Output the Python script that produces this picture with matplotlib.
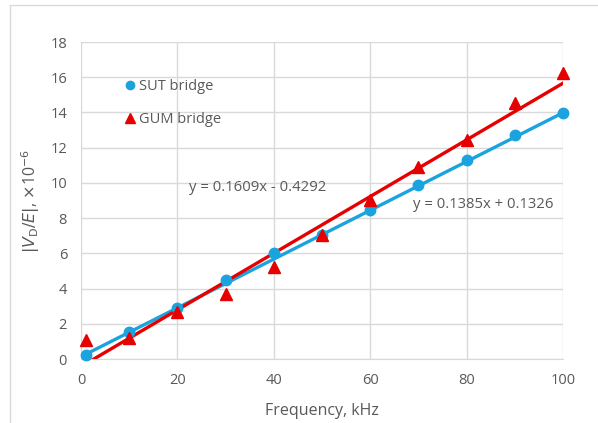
import matplotlib
matplotlib.use("Agg")
import matplotlib.pyplot as plt
from matplotlib.patches import Rectangle
from matplotlib.lines import Line2D
import numpy as np

plt.rcParams['font.family'] = ['Open Sans', 'DejaVu Sans']

freq = [1, 10, 20, 30, 40, 50, 60, 70, 80, 90, 100]
sut = [0.23, 1.52, 2.88, 4.47, 6.0, 7.02, 8.46, 9.87, 11.28, 12.72, 13.98]
gum = [1.08, 1.19, 2.67, 3.70, 5.23, 7.05, 9.03, 10.90, 12.44, 14.55, 16.25]
sut_fit = (0.1385, 0.1326)
gum_fit = (0.1609, -0.4292)
sut_label = "y = 0.1385x + 0.1326"
gum_label = "y = 0.1609x - 0.4292"
xticks = [0, 20, 40, 60, 80, 100]
yticks = [0, 2, 4, 6, 8, 10, 12, 14, 16, 18]

blue = '#1aa3df'
red = '#e60000'
tick_col = '#595959'
grid_col = '#d9d9d9'

fig = plt.figure(figsize=(5.98, 4.23), dpi=100)
fig.patches.append(Rectangle((10/598, -0.1), 2, 1.1 - 5/423, transform=fig.transFigure,
                             facecolor='none', edgecolor='#d9d9d9', lw=1))
ax = fig.add_axes([81/598, 1 - 359/423, (563-81)/598, (359-42)/423])

ax.set_xlim(0, 100)
ax.set_ylim(0, 18)
ax.set_xticks(xticks)
ax.set_yticks(yticks)
ax.grid(True, color=grid_col, lw=1)
ax.set_axisbelow(True)
for s in ['top', 'right', 'left']:
    ax.spines[s].set_visible(False)
ax.spines['bottom'].set_color(grid_col)
ax.tick_params(length=0, colors=tick_col, labelsize=10.5, pad=10)

xf = np.array([freq[0], freq[-1]])
ax.plot(xf, sut_fit[0]*xf + sut_fit[1], color=blue, lw=2.4, zorder=2)
ax.plot(xf, gum_fit[0]*xf + gum_fit[1], color=red, lw=2.4, zorder=2)
ax.plot(freq, sut, 'o', color=blue, ms=7.5, zorder=3, clip_on=False)
ax.plot(freq, gum, '^', color=red, ms=8.5, zorder=4, clip_on=False)

ax.text(189/598, 1 - 187/423, gum_label, transform=fig.transFigure, fontsize=10.7,
        color=tick_col, va='center', ha='left')
ax.text(413/598, 1 - 205/423, sut_label, transform=fig.transFigure, fontsize=10.7,
        color=tick_col, va='center', ha='left')

handles = [Line2D([], [], marker='o', color=blue, ls='none', ms=6),
           Line2D([], [], marker='^', color=red, ls='none', ms=7)]
leg = ax.legend(handles, ['SUT bridge', 'GUM bridge'], loc='upper left',
                bbox_to_anchor=(124/598, 1 - 79/423), bbox_transform=fig.transFigure,
                frameon=False, handlelength=0.8, handletextpad=0.2, labelspacing=1.25,
                fontsize=10.5, borderaxespad=0, borderpad=0)
for t in leg.get_texts():
    t.set_color(tick_col)

ax.set_xlabel('Frequency, kHz', fontsize=11.5, color=tick_col, labelpad=11)
ax.set_ylabel(r'$|V_\mathrm{D}/E|$, $\times$10$^{-6}$', fontsize=11.5, color=tick_col, labelpad=6)

fig.savefig('out.png', dpi=100)
